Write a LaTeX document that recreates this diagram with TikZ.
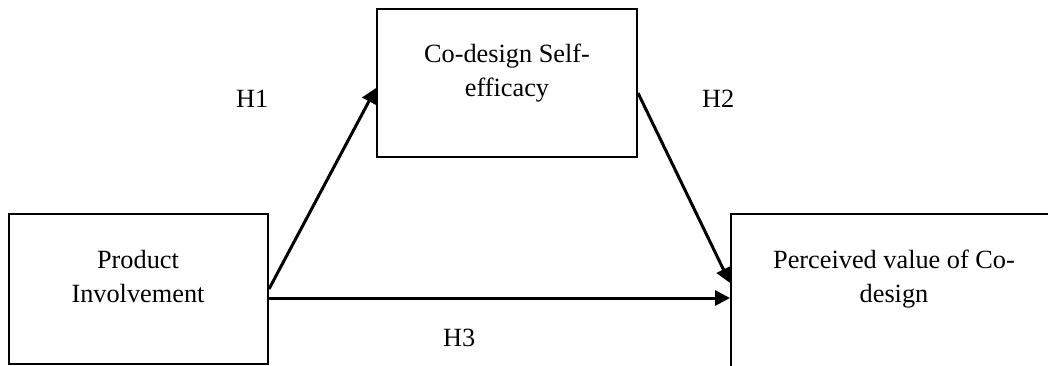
\documentclass[tikz,border=0pt]{standalone}
\usepackage{fontspec}
\setmainfont{Liberation Serif}
\usetikzlibrary{arrows.meta}
\begin{document}
\begin{tikzpicture}[x=1pt, y=-1pt,
  box/.style={draw, line width=2pt, rectangle, inner sep=0pt},
  txt/.style={font=\fontsize{26.3}{34}\selectfont, align=center, inner sep=0pt, anchor=base},
  hyp/.style={font=\fontsize{26.3}{34}\selectfont, inner sep=0pt, anchor=base west},
  link/.style={line width=3pt, -{Triangle[length=15pt, width=15pt]}}
]
  \useasboundingbox (0,0) rectangle (1048,365);
  \clip (0,0) rectangle (1048,365);

  % boxes
  \node[box, minimum width=259pt, minimum height=150pt] (pi) at (138.5,289) {};
  \node[box, minimum width=260pt, minimum height=148pt] (cs) at (507,83) {};
  \node[box, minimum width=330pt, minimum height=170pt] (pv) at (896,299) {};

  % box texts (anchored on the baseline of the last line)
  \node[txt] (pitxt) at (138,302) {Product\\Involvement};
  \node[txt] (cstxt) at (507,96) {Co-design Self-\\efficacy};
  \node[txt] (pvtxt) at (894,302) {Perceived value of Co-\\design};

  % hypothesis labels
  \node[hyp] (h1) at (236,107) {H1};
  \node[hyp] (h2) at (702,107) {H2};
  \node[hyp] (h3) at (443,346) {H3};

  % paths
  \coordinate (p3) at ([yshift=-9pt]pi.east);
  \draw[link] (pi.east) -- ([yshift=-5pt]cs.west);
  \draw[link] ([yshift=-10pt]cs.east) -- ([yshift=16pt]pv.west);
  \draw[link] (p3) -- (pv.west |- p3);
\end{tikzpicture}
\end{document}
